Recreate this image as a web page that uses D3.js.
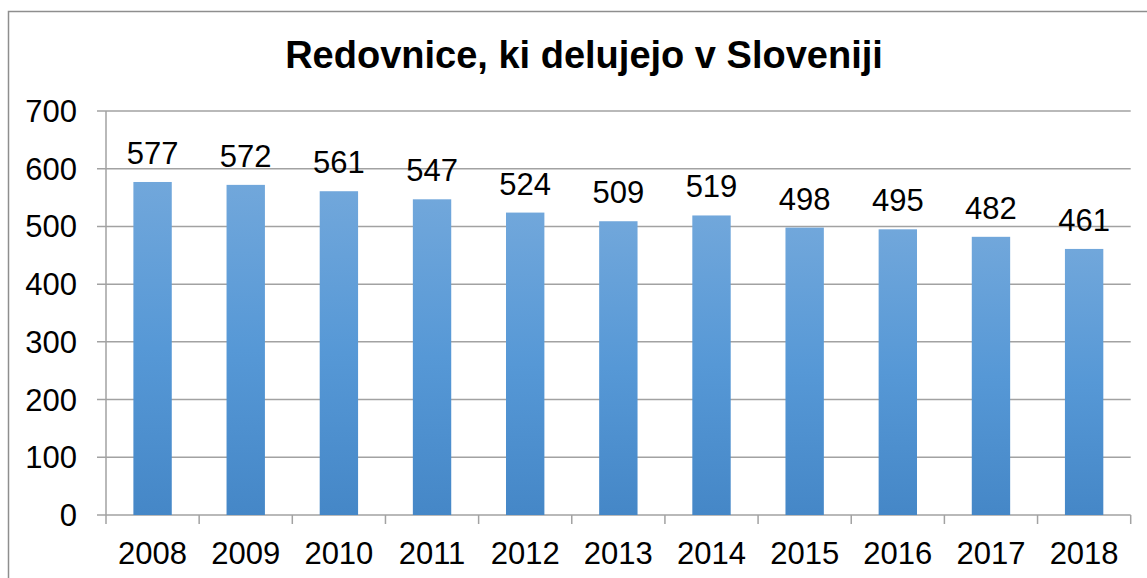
<!DOCTYPE html>
<html><head><meta charset="utf-8">
<script src="https://cdn.jsdelivr.net/npm/d3@7"></script>
<style>html,body{margin:0;padding:0;background:#fff;overflow:hidden}</style>
</head><body>
<script>
const years = ["2008","2009","2010","2011","2012","2013","2014","2015","2016","2017","2018"];
const values = [577,572,561,547,524,509,519,498,495,482,461];
const yTicks = [0,100,200,300,400,500,600,700];
const title = "Redovnice, ki delujejo v Sloveniji";

(function(){
const W = 1147, H = 578;
const svg = d3.select("body").append("svg").attr("width", W).attr("height", H);
const font = "Arial, 'Liberation Sans', sans-serif";

const defs = svg.append("defs");
const grad = defs.append("linearGradient").attr("id","barGrad").attr("x1",0).attr("y1",0).attr("x2",0).attr("y2",1);
grad.append("stop").attr("offset","0%").attr("stop-color","#71a7db");
grad.append("stop").attr("offset","50%").attr("stop-color","#5698d6");
grad.append("stop").attr("offset","100%").attr("stop-color","#4587c7");

// outer frame
svg.append("rect").attr("x",8.5).attr("y",11.5).attr("width",W+20).attr("height",H+20)
  .attr("fill","none").attr("stroke","#8e8e8e").attr("stroke-width",1.5);

const pLeft = 106, pRight = 1130.7, pTop = 111, pBottom = 515;
const x = d3.scaleBand().domain(years).range([pLeft, pRight]).paddingInner(0).paddingOuter(0);
const y = d3.scaleLinear().domain([0,700]).range([pBottom, pTop]);

// gridlines
svg.append("g").selectAll("line").data(yTicks).join("line")
  .attr("x1", pLeft-9).attr("x2", pRight).attr("y1", d=>y(d)).attr("y2", d=>y(d))
  .attr("stroke","#a2a2a2").attr("stroke-width",1.5);

// y axis line
svg.append("line").attr("x1",pLeft).attr("x2",pLeft).attr("y1",pTop).attr("y2",pBottom)
  .attr("stroke","#a2a2a2").attr("stroke-width",1.5);

// x tick marks
const tickXs = years.map(d=>x(d)).concat([pRight]);
svg.append("g").selectAll("line").data(tickXs).join("line")
  .attr("x1",d=>d).attr("x2",d=>d).attr("y1",pBottom).attr("y2",pBottom+9)
  .attr("stroke","#a2a2a2").attr("stroke-width",1.5);

// bars
const bw = x.bandwidth()*0.412;
svg.append("g").selectAll("rect").data(values).join("rect")
  .attr("x",(d,i)=>x(years[i])+x.bandwidth()/2-bw/2)
  .attr("width",bw)
  .attr("y",d=>y(d))
  .attr("height",d=>pBottom-y(d))
  .attr("fill","url(#barGrad)");

// data labels
svg.append("g").selectAll("text").data(values).join("text")
  .attr("x",(d,i)=>x(years[i])+x.bandwidth()/2)
  .attr("y",d=>y(d)-18)
  .attr("text-anchor","middle")
  .attr("font-family",font).attr("font-size",31).attr("fill","#000")
  .text(d=>d);

// y labels
svg.append("g").selectAll("text").data(yTicks).join("text")
  .attr("x",77).attr("y",d=>y(d)+11)
  .attr("text-anchor","end")
  .attr("font-family",font).attr("font-size",31).attr("fill","#000")
  .text(d=>d);

// x labels
svg.append("g").selectAll("text").data(years).join("text")
  .attr("x",d=>x(d)+x.bandwidth()/2).attr("y",564)
  .attr("text-anchor","middle")
  .attr("font-family",font).attr("font-size",31).attr("fill","#000")
  .text(d=>d);

// title
svg.append("text").attr("x",584).attr("y",68).attr("text-anchor","middle")
  .attr("font-family",font).attr("font-size",38).attr("font-weight","bold").attr("fill","#000")
  .text(title);
})();
</script>
</body></html>
